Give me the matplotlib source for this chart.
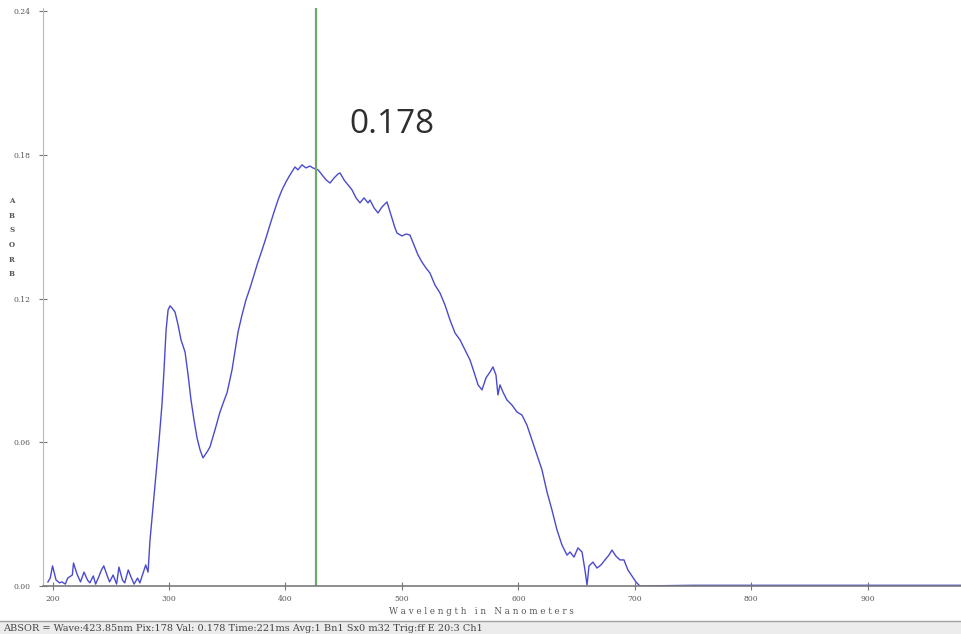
import matplotlib.pyplot as plt

# absorbance spectrum
wavelength = [196, 198, 200, 203, 206, 208, 211, 213, 217, 218, 221, 224, 227, 230,
              232, 235, 237, 240, 242, 244, 247, 249, 252, 255, 257, 260, 262, 265,
              267, 270, 273, 275, 278, 280,
              282.0, 283.7, 286.3, 288.9, 291.5, 294.0, 295.7, 297.5, 299.2, 300.9,
              302.6, 305.2, 307.8, 310.3, 313.8, 316.4, 318.9, 321.5, 324.1, 326.7,
              329.2, 332.7, 335.2, 339.5, 343.8, 348.1, 349.8, 354.1, 357.5, 359.3,
              362.7, 366.1, 369.6, 373.0, 376.4, 379.9, 383.3, 386.7, 390.2, 393.6,
              397.0, 400.5, 403.9, 408.2, 410.7, 414.2, 417.6, 421.0, 423.6, 428.0,
              431.4, 434.9, 438.3, 441.7, 445.2, 446.9, 450.3, 453.7, 457.2, 460.6,
              464.0, 467.5, 470.9, 472.6, 476.1, 479.5, 482.9, 487.2, 490.6, 494.1,
              495.8, 500.1, 503.5, 506.9, 510.4, 513.8, 517.2, 520.7, 524.1, 528.4,
              532.7, 537.0, 541.3, 545.6, 549.9, 554.2, 558.5, 561.9, 565.4, 568.8,
              572.2, 575.7, 578.2, 580.8, 582.5, 584.2, 586.8, 590.2, 594.5, 598.8,
              603.1, 607.4, 611.7, 616.0, 620.3, 624.6, 628.9, 633.2, 637.5, 641.8,
              644.4, 647.8, 651.2, 654.7, 657.2, 659.0, 660.7, 664.1, 667.5, 671.0,
              674.4, 677.8, 680.4, 683.8, 687.3, 690.7, 694.1, 697.5, 701.0, 704.4,
              750, 800, 850, 900, 950, 990]
absorbance = [0.0017, 0.0033, 0.0084, 0.0025, 0.0013, 0.0017, 0.0008, 0.0033, 0.0046,
              0.0096, 0.0050, 0.0017, 0.0058, 0.0025, 0.0013, 0.0042, 0.0008, 0.0042,
              0.0067, 0.0084, 0.0042, 0.0017, 0.0046, 0.0008, 0.0079, 0.0025, 0.0013,
              0.0067, 0.0042, 0.0008, 0.0033, 0.0013, 0.0058, 0.0088,
              0.0058, 0.0192, 0.0330, 0.0470, 0.0610, 0.0760, 0.0900, 0.1069, 0.1153,
              0.1170, 0.1161, 0.1144, 0.1090, 0.1028, 0.0977, 0.0881, 0.0777, 0.0693,
              0.0618, 0.0568, 0.0535, 0.0560, 0.0581, 0.0652, 0.0727, 0.0785, 0.0806,
              0.0902, 0.1007, 0.1061, 0.1132, 0.1195, 0.1245, 0.1299, 0.1353, 0.1403,
              0.1454, 0.1508, 0.1562, 0.1612, 0.1654, 0.1688, 0.1717, 0.1750, 0.1738,
              0.1759, 0.1746, 0.1754, 0.1746, 0.1738, 0.1717, 0.1696, 0.1683, 0.1704,
              0.1721, 0.1725, 0.1696, 0.1675, 0.1654, 0.1621, 0.1600, 0.1621, 0.1600,
              0.1612, 0.1579, 0.1558, 0.1583, 0.1604, 0.1550, 0.1495, 0.1474, 0.1462,
              0.1470, 0.1466, 0.1424, 0.1383, 0.1353, 0.1328, 0.1307, 0.1257, 0.1224,
              0.1174, 0.1111, 0.1057, 0.1028, 0.0986, 0.0944, 0.0894, 0.0840, 0.0819,
              0.0869, 0.0894, 0.0915, 0.0881, 0.0798, 0.0840, 0.0810, 0.0777, 0.0756,
              0.0727, 0.0714, 0.0672, 0.0610, 0.0547, 0.0485, 0.0393, 0.0317, 0.0234,
              0.0171, 0.0129, 0.0142, 0.0121, 0.0159, 0.0142, 0.0067, 0.0004, 0.0084,
              0.0100, 0.0075, 0.0088, 0.0109, 0.0129, 0.0150, 0.0125, 0.0109, 0.0109,
              0.0067, 0.0042, 0.0017, 0.0,
              0.0003, 0.0003, 0.0003, 0.0003, 0.0003, 0.0003]

x_ticks = [200, 300, 400, 500, 600, 700, 800, 900]
y_ticks = [0.0, 0.06, 0.12, 0.18, 0.24]
y_tick_labels = ["0.00", "0.06", "0.12", "0.18", "0.24"]

cursor_wave = 426.3
cursor_val = "0.178"
status_text = ("ABSOR = Wave:423.85nm Pix:178 Val: 0.178 Time:221ms Avg:1 Bn1 "
               "Sx0 m32 Trig:ff E 20:3 Ch1")

fig = plt.figure(figsize=(9.62, 6.34), dpi=100)
ax = fig.add_axes([0.0447, 0.0757, 0.9553, 0.9117])

ax.plot(wavelength, absorbance, color="#4a4ad0", linewidth=1.0)
ax.axvline(cursor_wave, color="#6fa86a", linewidth=1.6)
ax.text(491.5, 0.1926, cursor_val, fontsize=24, family="Open Sans",
        color="#2e2e2e", ha="center", va="center")

ax.set_xlim(191.8, 981)
ax.set_ylim(0, 0.2414)

ax.spines["top"].set_visible(False)
ax.spines["right"].set_visible(False)
ax.spines["left"].set_color("#b8b8b8")
ax.spines["bottom"].set_color("#7a7a7a")
ax.spines["bottom"].set_linewidth(1.2)

ax.set_xticks(x_ticks)
ax.set_xticklabels([str(t) for t in x_ticks])
ax.set_yticks(y_ticks)
ax.set_yticklabels(y_tick_labels)
ax.tick_params(axis="both", direction="inout", length=6, width=0.8,
               colors="#777777", labelsize=5.5, labelcolor="#555555")
ax.tick_params(axis="y", pad=6)
for lbl in ax.get_xticklabels() + ax.get_yticklabels():
    lbl.set_family("DejaVu Serif")

fig.text(0.5, 0.036, "W a v e l e n g t h   i n   N a n o m e t e r s",
         ha="center", va="center", fontsize=6.3, family="DejaVu Serif",
         color="#555555")
fig.text(0.0125, 0.625, "A\nB\nS\nO\nR\nB", ha="center", va="center",
         fontsize=5, family="DejaVu Serif", weight="bold", color="#555555",
         linespacing=2.1)

# status bar along the bottom
fig.patches.append(plt.Rectangle((0, 0), 1, 0.02, transform=fig.transFigure,
                                 facecolor="#ececec", edgecolor="none"))
fig.lines.append(plt.Line2D([0, 1], [0.021, 0.021], transform=fig.transFigure,
                            color="#a0a0a0", linewidth=1.0))
fig.text(0.003, 0.009, status_text, ha="left", va="center", fontsize=7,
         family="DejaVu Serif", color="#444444")

fig.savefig("out.png", dpi=100)
